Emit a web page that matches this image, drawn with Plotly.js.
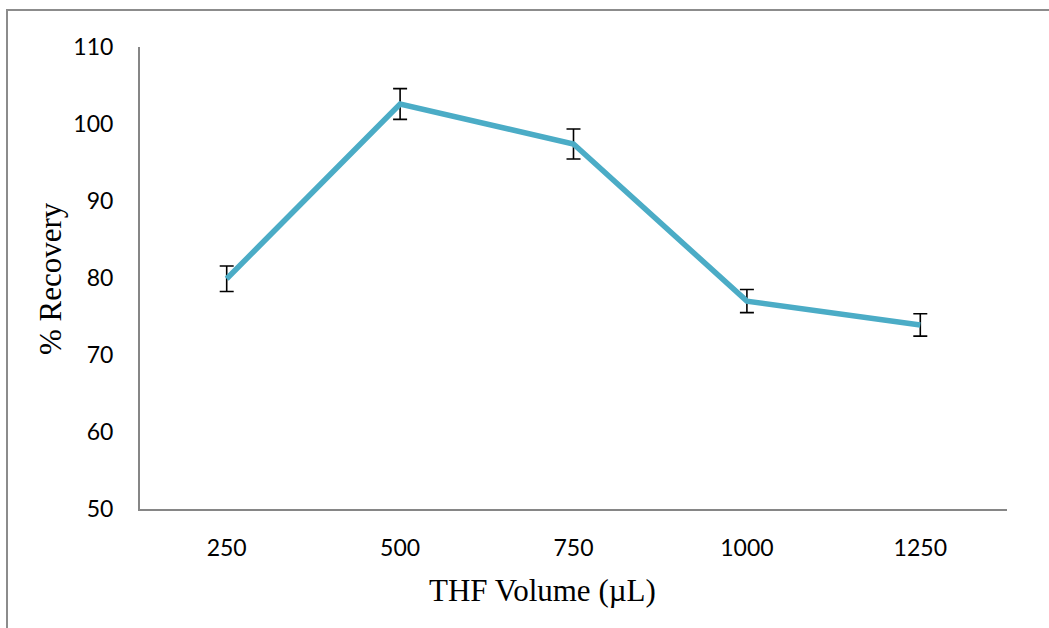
<!DOCTYPE html>
<html>
<head>
<meta charset="utf-8">
<script src="https://cdn.plot.ly/plotly-3.0.1.min.js"></script>
<style>
  html, body { margin: 0; padding: 0; background: #fff; }
  #chart { width: 1049px; height: 628px; }
</style>
</head>
<body>
<div id="chart"></div>
<script>
const categories = ["250", "500", "750", "1000", "1250"];
const recovery = [79.9, 102.6, 97.4, 77.0, 73.9];
const errors = [1.65, 2.0, 1.95, 1.5, 1.45];
const yTicks = [50, 60, 70, 80, 90, 100, 110];
const xTitle = "THF Volume (µL)";
const yTitle = "% Recovery";

const trace = {
  x: categories,
  y: recovery,
  type: "scatter",
  mode: "lines",
  line: { color: "#4BACC6", width: 5.5 },
  error_y: { type: "data", array: errors, visible: true, color: "#000000", thickness: 1.6, width: 7 },
  hoverinfo: "x+y"
};

const tickFont = { family: "Lato, 'Open Sans', sans-serif", size: 23, color: "#000" };
const titleFont = { family: "'Liberation Serif', 'DejaVu Serif', serif", size: 31, color: "#000" };

const layout = {
  width: 1049,
  height: 628,
  paper_bgcolor: "#ffffff",
  plot_bgcolor: "#ffffff",
  margin: { l: 140, r: 42, t: 47, b: 119 },
  showlegend: false,
  font: { family: "Lato, 'Open Sans', sans-serif", color: "#000000", size: 23 },
  xaxis: {
    type: "category",
    range: [-0.5, 4.5],
    showline: true,
    linecolor: "#868686",
    linewidth: 2,
    showgrid: false,
    zeroline: false,
    ticks: "",
    ticklabelstandoff: 17,
    tickfont: tickFont
  },
  yaxis: {
    range: [50, 110],
    tickvals: yTicks,
    ticktext: yTicks.map(String),
    showline: true,
    linecolor: "#868686",
    linewidth: 2,
    showgrid: false,
    zeroline: false,
    ticks: "",
    ticklabelstandoff: 20,
    tickfont: tickFont
  },
  annotations: [
    {
      text: xTitle, xref: "paper", yref: "paper",
      x: (542 - 140) / 867, y: (509 - 590) / 462,
      xanchor: "center", yanchor: "middle", showarrow: false, font: titleFont
    },
    {
      text: yTitle, xref: "paper", yref: "paper",
      x: (50 - 140) / 867, y: (509 - 279) / 462,
      xanchor: "center", yanchor: "middle", textangle: -90, showarrow: false, font: titleFont
    }
  ],
  shapes: [
    {
      type: "rect", xref: "paper", yref: "paper",
      x0: -133 / 867, x1: 1.2, y0: -0.5, y1: 1 + 37 / 462,
      line: { color: "#8c8c8c", width: 2 },
      fillcolor: "rgba(0,0,0,0)",
      layer: "below"
    }
  ]
};

Plotly.newPlot("chart", [trace], layout, { displayModeBar: false, staticPlot: true });
</script>
</body>
</html>
